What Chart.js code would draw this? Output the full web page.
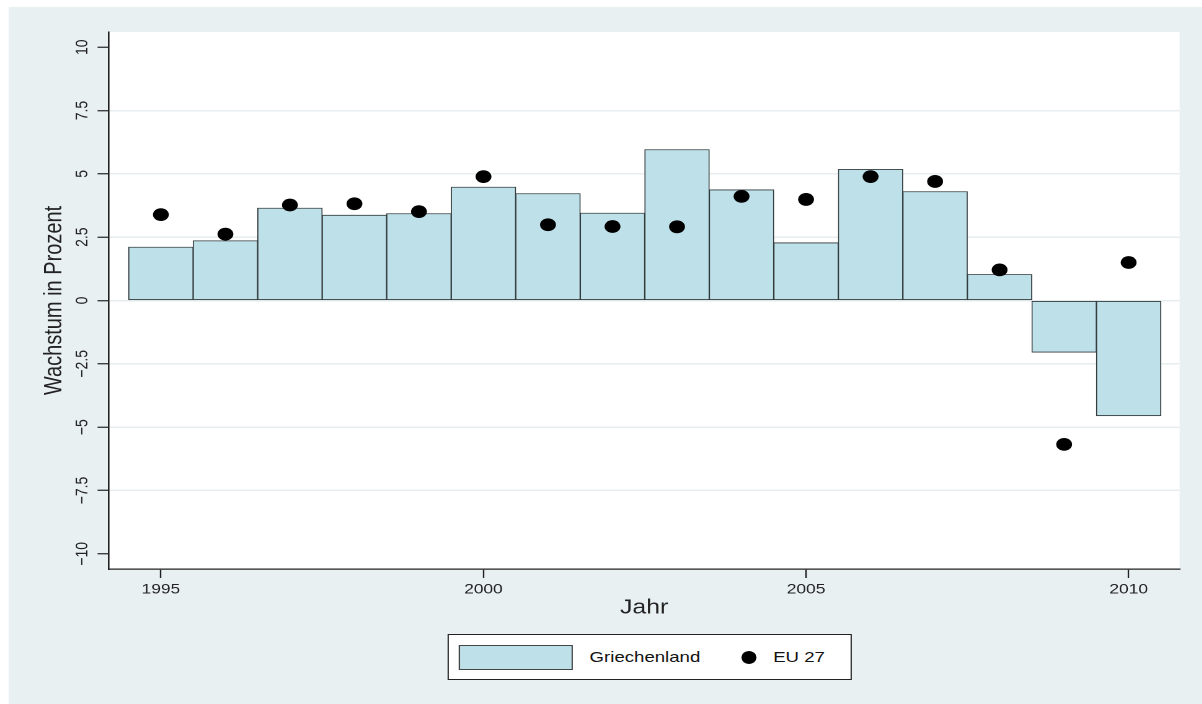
<!DOCTYPE html>
<html>
<head>
<meta charset="utf-8">
<script src="https://cdn.jsdelivr.net/npm/chart.js@4"></script>
<style>
  html, body { margin: 0; padding: 0; background: #fff; overflow: hidden; }
  /* the original picture is stretched sideways, so the whole graph is too */
  #stretch { position: absolute; left: 0; top: 0; width: 970px; height: 704px; transform: scaleX(1.24); transform-origin: 0 0; }
  #panel { position: absolute; left: 6.5px; top: 7px; width: 963.5px; height: 697px; background: #e9f0f2; }
  #chart { position: absolute; left: 0; top: 0; }
  #legend { position: absolute; left: 360.5px; top: 634px; width: 326px; height: 46px; box-sizing: border-box;
            border: 1px solid #222; background: #fff; font-family: "Liberation Sans", Arial, sans-serif; font-size: 15px; color: #111; }
  #legend .swatch { position: absolute; left: 8px; top: 10px; width: 92px; height: 25px; box-sizing: border-box;
                    border: 1px solid #444; background: #bee0e9; }
  #legend .dot { position: absolute; left: 236px; top: 16px; width: 12.8px; height: 12.8px; border-radius: 50%; background: #000; }
  #legend .lbl { position: absolute; top: 0; line-height: 44px; white-space: nowrap; }
</style>
</head>
<body>
<div id="stretch">
  <div id="panel">
    <canvas id="chart" width="963" height="697"></canvas>
  </div>
  <div id="legend">
    <span class="swatch"></span>
    <span class="lbl" style="left:114px">Griechenland</span>
    <span class="dot"></span>
    <span class="lbl" style="left:262px">EU 27</span>
  </div>
</div>

<script>

/* DATA */
const years = [1995, 1996, 1997, 1998, 1999, 2000, 2001, 2002, 2003, 2004, 2005, 2006, 2007, 2008, 2009, 2010];

const greece = [2.11, 2.36, 3.65, 3.37, 3.43, 4.48, 4.22, 3.45, 5.96, 4.37, 2.28, 5.18, 4.30, 1.03, -2.04, -4.55];

const eu27 = [3.39, 2.62, 3.77, 3.82, 3.51, 4.89, 2.99, 2.92, 2.91, 4.11, 3.99, 4.89, 4.70, 1.21, -5.68, 1.50];

const xTicks = [1995, 2000, 2005, 2010];

const yTicks = [-10, -7.5, -5, -2.5, 0, 2.5, 5, 7.5, 10];


const barColor = "#bee0e9";
const axisColor = "#222";

Chart.defaults.font.family = '"Liberation Sans", Arial, sans-serif';


/* white plot region */
const plotBg = {
  id: "plotBg",
  beforeDraw(chart) {
    const a = chart.chartArea;
    const c = chart.ctx;
    c.save();
    c.fillStyle = "#fff";
    c.fillRect(a.left, a.top, a.right - a.left, a.bottom - a.top);
    c.restore();
  }
};


new Chart(document.getElementById("chart"), {

  type: "bar",

  data: {
    datasets: [
      {
        type: "scatter",
        label: "EU 27",
        data: years.map((y, i) => ({ x: y, y: eu27[i] })),
        pointRadius: 6.4,
        pointBackgroundColor: "#000",
        pointBorderWidth: 0,
        order: 0
      },
      {
        type: "bar",
        label: "Griechenland",
        data: years.map((y, i) => ({ x: y, y: greece[i] })),
        backgroundColor: barColor,
        borderColor: "#343c3e",
        borderWidth: 0.9,
        borderSkipped: false,
        barPercentage: 1,
        categoryPercentage: 1,
        order: 1
      }
    ]
  },

  options: {
    responsive: false,
    animation: false,
    devicePixelRatio: 2,
    layout: { padding: { left: 0, top: 25, right: 18.7, bottom: 81 } },
    plugins: {
      legend: { display: false },
      tooltip: { enabled: false }
    },
    scales: {
      x: {
        type: "linear",
        min: 1994.19,
        max: 2010.79,
        offset: false,
        afterBuildTicks: s => { s.ticks = xTicks.map(v => ({ value: v })); },
        afterFit: s => { s.height = 54; },
        grid: { drawOnChartArea: false, tickLength: 9, tickColor: axisColor, tickWidth: 1.2, offset: false },
        border: { color: axisColor, width: 1.3 },
        ticks: { font: { size: 14 }, color: axisColor, padding: 3, maxRotation: 0, autoSkip: false,
                 callback: v => String(v) },
        title: { display: true, text: "Jahr", font: { size: 20 }, color: axisColor, padding: { top: 0, bottom: 3 } }
      },
      y: {
        min: -10.6,
        max: 10.6,
        afterBuildTicks: s => { s.ticks = yTicks.map(v => ({ value: v })); },
        afterFit: s => { s.width = 80.6; },
        grid: {
          color: c => (c.tick && Math.abs(c.tick.value) === 10) ? "rgba(0,0,0,0)" : "#e6eef0",
          lineWidth: 1.5,
          tickLength: 8.9,
          tickColor: axisColor,
          tickWidth: 1.2
        },
        border: { color: axisColor, width: 1.3 },
        ticks: {
          font: { size: 14 },
          color: axisColor,
          minRotation: 90,
          maxRotation: 90,
          crossAlign: "center",
          padding: -1.7,
          autoSkip: false,
          callback: v => String(v).replace("-", "\u2212")
        },
        title: { display: true, text: "Wachstum in Prozent", font: { size: 20 }, color: axisColor, padding: { top: 25, bottom: 0 } }
      }
    }
  },

  plugins: [plotBg]

});

</script>
</body>
</html>
